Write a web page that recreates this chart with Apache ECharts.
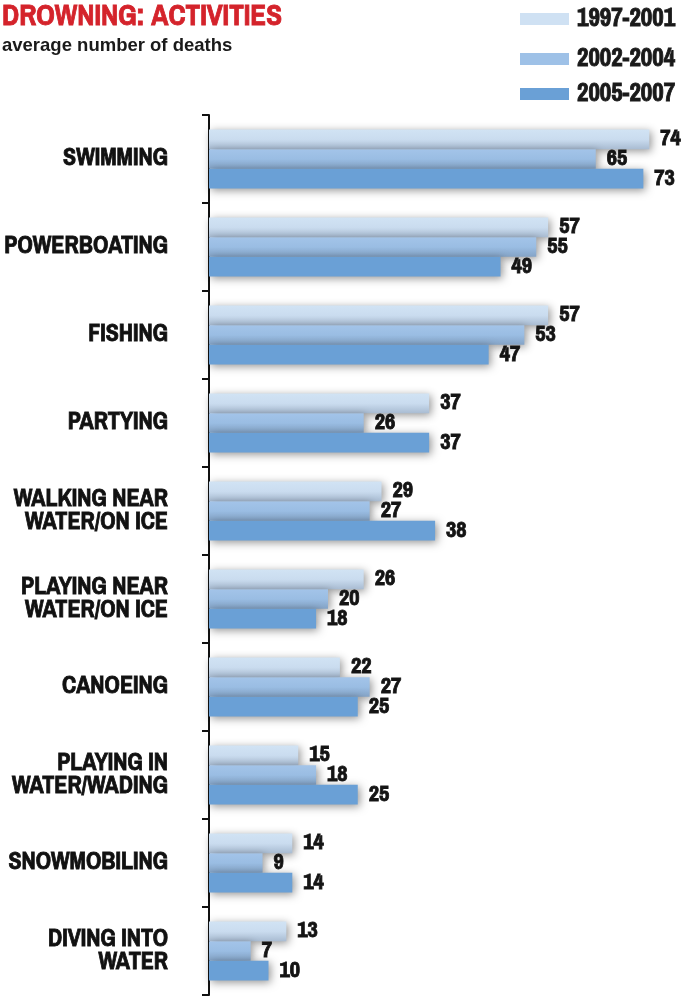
<!DOCTYPE html>
<html>
<head>
<meta charset="utf-8">
<script src="https://cdn.jsdelivr.net/npm/echarts@6/dist/echarts.min.js"></script>
<style>
  html, body { margin: 0; padding: 0; background: #fff; }
  #chart { width: 698px; height: 996px; }
</style>
</head>
<body>
<div id="chart"></div>
<script>
// Activities, top to bottom
const categories = [
  'SWIMMING',
  'POWERBOATING',
  'FISHING',
  'PARTYING',
  'WALKING NEAR\nWATER/ON ICE',
  'PLAYING NEAR\nWATER/ON ICE',
  'CANOEING',
  'PLAYING IN\nWATER/WADING',
  'SNOWMOBILING',
  'DIVING INTO\nWATER'
];

// Average number of deaths per period
const period1 = '1997-2001';
const period2 = '2002-2004';
const period3 = '2005-2007';
const deaths1997_2001 = [74, 57, 57, 37, 29, 26, 22, 15, 14, 13];
const deaths2002_2004 = [65, 55, 53, 26, 27, 20, 27, 18, 9, 7];
const deaths2005_2007 = [73, 49, 47, 37, 38, 18, 25, 25, 14, 10];

const NARROW = "'Archivo Narrow', 'Roboto Condensed', 'DejaVu Sans Condensed', sans-serif";
const WIDE = "'Liberation Sans', Arial, sans-serif";
const colors = ['#cfe1f3', '#9ec1e7', '#6aa0d6'];
// darker tone toward the lower edge of the two lighter bars
const fills = [
  { type: 'linear', x: 0, y: 0, x2: 0, y2: 1,
    colorStops: [{ offset: 0, color: '#d1e3f4' }, { offset: 0.5, color: '#cadcef' }, { offset: 1, color: '#a9bcd2' }] },
  { type: 'linear', x: 0, y: 0, x2: 0, y2: 1,
    colorStops: [{ offset: 0, color: '#a3c4e9' }, { offset: 0.5, color: '#9abde3' }, { offset: 1, color: '#84a3c6' }] },
  colors[2]
];

const inkStroke = { textBorderColor: '#141414', textBorderWidth: 0.8 };

function barSeries(name, data, fill) {
  return {
    name: name,
    type: 'bar',
    data: data,
    barGap: '0%',
    barCategoryGap: '33%',
    itemStyle: {
      color: fill,
      shadowBlur: 9,
      shadowColor: 'rgba(0,0,0,0.42)',
      shadowOffsetX: 2,
      shadowOffsetY: 2
    },
    label: Object.assign({
      show: true,
      position: 'right',
      distance: 11,
      color: '#141414',
      fontFamily: NARROW,
      fontWeight: 'bold',
      fontSize: 22.5
    }, inkStroke),
    emphasis: { disabled: true }
  };
}

function legendFor(name, swatch, top) {
  return {
    data: [name],
    left: 520,
    top: top,
    padding: 0,
    itemWidth: 49,
    itemHeight: 12,
    itemGap: 8,
    icon: 'rect',
    selectedMode: false,
    itemStyle: { color: swatch, shadowBlur: 0, shadowOffsetX: 0, shadowOffsetY: 0 },
    textStyle: Object.assign({
      color: '#1a1a1a',
      fontFamily: NARROW,
      fontWeight: 'bold',
      fontSize: 25,
      lineHeight: 26,
      padding: [0, 0, 0, 3]
    }, inkStroke)
  };
}

const chart = echarts.init(document.getElementById('chart'), null, { renderer: 'canvas' });

chart.setOption({
  animation: false,
  backgroundColor: '#ffffff',
  color: colors,
  title: {
    text: 'DROWNING: ACTIVITIES',
    subtext: 'average number of deaths',
    left: 0,
    top: 3,
    padding: [0, 0, 0, 2],
    itemGap: 4,
    textStyle: {
      color: '#d4232b',
      fontFamily: NARROW,
      fontWeight: 'bold',
      fontSize: 29,
      textBorderColor: '#d4232b',
      textBorderWidth: 0.8
    },
    subtextStyle: {
      color: '#1a1a1a',
      fontFamily: WIDE,
      fontWeight: 'bold',
      fontSize: 18.5
    }
  },
  legend: [
    legendFor(period1, colors[0], 6),
    legendFor(period2, colors[1], 46),
    legendFor(period3, colors[2], 81)
  ],
  grid: {
    left: 209,
    right: 13,
    top: 115,
    bottom: 1,
    containLabel: false,
    outerBoundsMode: 'none'
  },
  xAxis: {
    type: 'value',
    min: 0,
    max: 80,
    show: false
  },
  yAxis: {
    type: 'category',
    data: categories,
    inverse: true,
    offset: 8,
    axisLine: { show: true, lineStyle: { color: '#111', width: 2 } },
    axisTick: { show: true, length: 7, lineStyle: { color: '#111', width: 2 } },
    axisLabel: Object.assign({
      margin: 33,
      color: '#111',
      fontFamily: NARROW,
      fontWeight: 'bold',
      fontSize: 24,
      lineHeight: 23,
      align: 'right'
    }, inkStroke),
    splitLine: { show: false }
  },
  series: [
    barSeries(period1, deaths1997_2001, fills[0]),
    barSeries(period2, deaths2002_2004, fills[1]),
    barSeries(period3, deaths2005_2007, fills[2])
  ]
});
</script>
</body>
</html>
